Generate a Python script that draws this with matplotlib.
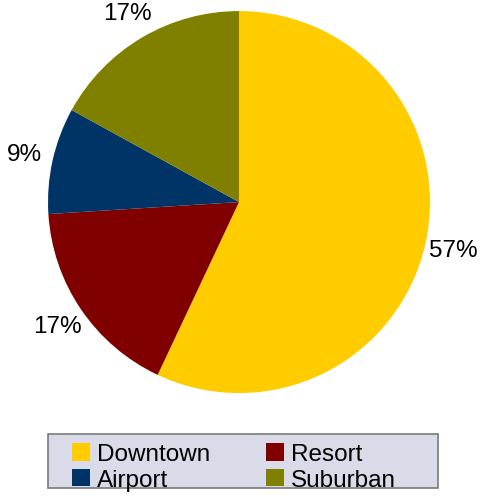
import matplotlib.pyplot as plt
from matplotlib.patches import Patch, Rectangle

plt.rcParams['font.family'] = ['Liberation Sans', 'DejaVu Sans']

# Share of locations by area
categories = ['Downtown', 'Resort', 'Airport', 'Suburban']
shares = [57, 17, 9, 17]
colors = ['#FFCC00', '#800000', '#003366', '#808000']

fig = plt.figure(figsize=(4.91, 5.02), dpi=100)
ax = fig.add_axes([0.0978, 0.215, 0.778, 0.761])

wedges, texts = ax.pie(shares, colors=colors, startangle=90, counterclock=False,
                       labels=[f'{s}%' for s in shares], labeldistance=1.15,
                       textprops={'fontsize': 17.5, 'ha': 'center', 'va': 'center'},
                       wedgeprops={'linewidth': 0})
ax.set_xlim(-1, 1)
ax.set_ylim(-1, 1)
ax.set_aspect('equal')

# Legend box
fig.patches.append(Rectangle((48 / 491, (502 - 489) / 502), 390 / 491, 54 / 502,
                             transform=fig.transFigure, facecolor='#D9DCE8',
                             edgecolor='#7A7A7A', linewidth=1.2, zorder=0))

# Two columns: Downtown/Airport, Resort/Suburban
order = [0, 2, 1, 3]
handles = [Patch(facecolor=colors[i], edgecolor='none') for i in order]
labels = [categories[i] for i in order]
fig.legend(handles, labels, ncol=2, loc='upper left',
           bbox_to_anchor=(72 / 491, (502 - 444) / 502), frameon=False,
           fontsize=17.5, handlelength=0.74, handleheight=0.74,
           handletextpad=0.28, labelspacing=0.14, columnspacing=2.3,
           borderpad=0, borderaxespad=0)

fig.savefig('out.png', dpi=100)
